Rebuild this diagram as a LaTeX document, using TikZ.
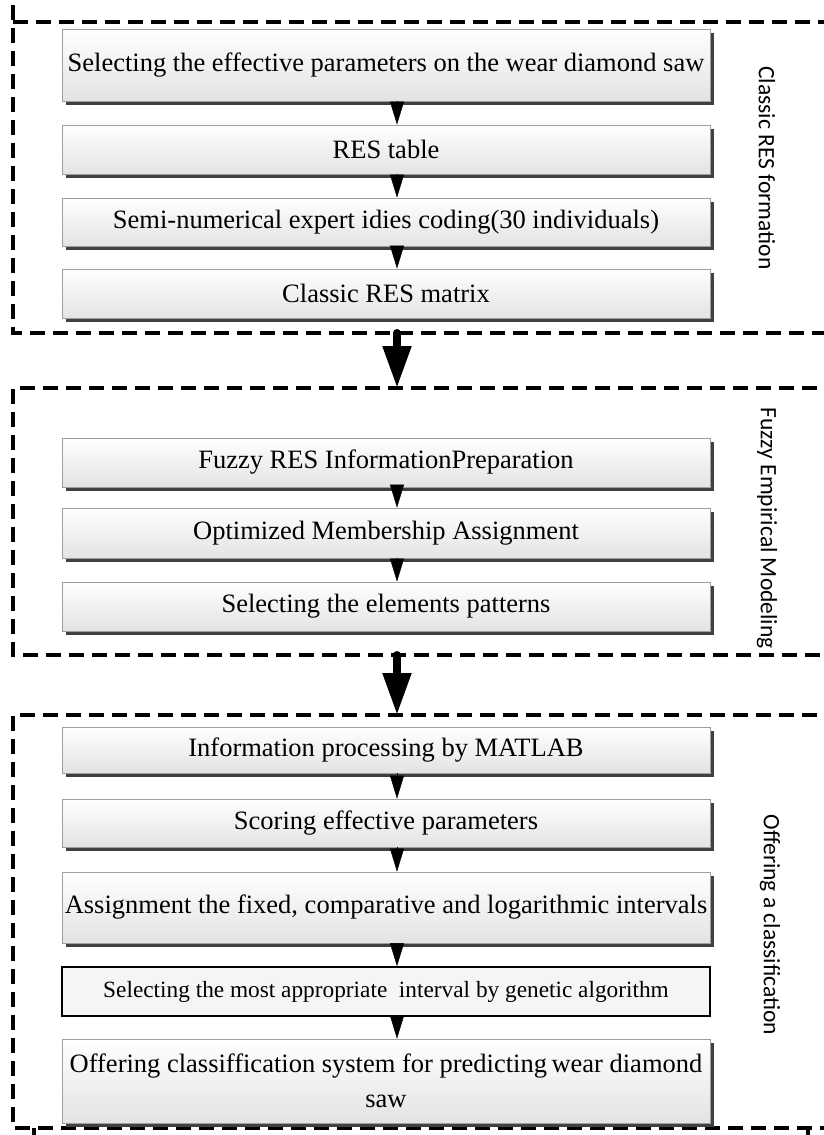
\documentclass[tikz,border=0pt]{standalone}
\usepackage{fontspec}
\setmainfont{Liberation Serif}
\newfontfamily\labelfont{Carlito}
\usepackage{tikz}
\usetikzlibrary{arrows.meta,shadows}

\begin{document}
\begin{tikzpicture}[x=1pt, y=-1pt,
	procbox/.style={draw=gray!75, line width=0.8pt, top color=white, bottom color=gray!22,
		minimum width=648pt, inner sep=0pt, align=center,
		font=\fontsize{26.5}{35}\selectfont,
		drop shadow={shadow xshift=3.5pt, shadow yshift=-4pt, fill=black!75, opacity=1}},
	gabox/.style={draw=black, line width=1.6pt, fill=gray!8, minimum width=648pt,
		inner sep=0pt, font=\fontsize{23.3}{27}\selectfont},
	frame/.style={line width=3.6pt, dash pattern=on 15pt off 8pt},
	sidelabel/.style={rotate=-90, font=\labelfont\fontsize{23.5}{28}\selectfont},
	small/.style={-{Triangle[length=23pt,width=14pt]}},
	big/.style={line width=8pt, line cap=round, -{Triangle[length=42pt,width=27pt]}}]
				\useasboundingbox (0,0) rectangle (823,1135);
				% frames
				\draw[frame] (13,5) -- (13,333) -- (840,333);
				\draw[frame] (13,22) -- (840,22);
				\draw[frame] (840,388) -- (13,388) -- (13,655) -- (840,655);
				\draw[frame] (840,715) -- (13,715) -- (13,1128) -- (840,1128);
				\draw[line width=3.6pt] (34,1128) -- (34,1135);
				\draw[line width=3.6pt] (808,1128) -- (808,1135);
				\coordinate (ax) at (397,0);
				\coordinate (f1s) at (397,333);
				\coordinate (f2n) at (397,388);
				\coordinate (f2s) at (397,655);
				\coordinate (f3n) at (397,715);
				% Classic RES formation
				\node[procbox, minimum height=72pt] (sel) at (386,65) {Selecting the effective parameters on the wear diamond saw};
				\node[procbox, minimum height=49pt] (restab) at (386,149.5) {RES table};
				\node[procbox, minimum height=48pt] (semi) at (386,222) {Semi-numerical expert idies coding(30 individuals)};
				\node[procbox, minimum height=49pt] (matrix) at (386,293.5) {Classic RES matrix};
				\node[sidelabel] (lbl1) at (767,168) {Classic RES formation};
				% Fuzzy Empirical Modeling
				\node[procbox, minimum height=49pt] (fuzzy) at (386,462.5) {Fuzzy RES InformationPreparation};
				\node[procbox, minimum height=50pt] (member) at (386,533) {Optimized Membership Assignment};
				\node[procbox, minimum height=49pt] (pattern) at (386,606.5) {Selecting the elements patterns};
				\node[sidelabel] (lbl2) at (767,528) {Fuzzy Empirical Modeling};
				% Offering a classification
				\node[procbox, minimum height=46pt] (matlab) at (386,750) {Information processing by MATLAB};
				\node[procbox, minimum height=48pt] (score) at (386,823) {Scoring effective parameters};
				\node[procbox, minimum height=71pt] (assign) at (386,907.5) {Assignment the fixed, comparative and logarithmic intervals};
				\node[gabox, minimum height=49pt] (genetic) at (386,991.5) {Selecting the most appropriate~ interval by genetic algorithm};
				\node[procbox, minimum height=84pt] (offer) at (386,1081) {Offering classiffication system for predicting\,wear diamond\\saw};
				\node[sidelabel] (lbl3) at (770,925) {Offering a classification};
				% arrows
				\draw[small] (sel.south -| ax) -- (restab.north -| ax);
				\draw[small] (restab.south -| ax) -- (semi.north -| ax);
				\draw[small] (semi.south -| ax) -- (matrix.north -| ax);
				\draw[small] (fuzzy.south -| ax) -- (member.north -| ax);
				\draw[small] (member.south -| ax) -- (pattern.north -| ax);
				\draw[small] (matlab.south -| ax) -- (score.north -| ax);
				\draw[small] (score.south -| ax) -- (assign.north -| ax);
				\draw[small] (assign.south -| ax) -- (genetic.north -| ax);
				\draw[small] (genetic.south -| ax) -- (offer.north -| ax);
				\draw[big] (f1s) -- (f2n);
				\draw[big] (f2s) -- (f3n);
			\end{tikzpicture}
\end{document}
